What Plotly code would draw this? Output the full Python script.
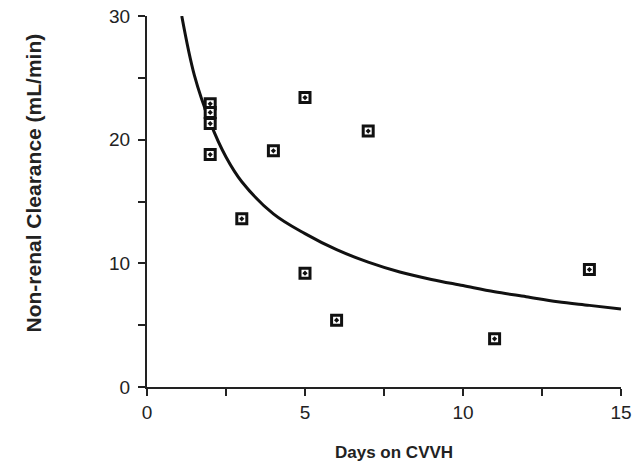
import plotly.graph_objects as go

# Observed data points
days = [2, 2, 2, 2, 3, 4, 5, 5, 6, 7, 11, 14]
clearance = [22.9, 22.2, 21.3, 18.8, 13.6, 19.1, 23.4, 9.2, 5.4, 20.7, 3.9, 9.5]

# Fitted curve
curve_x = [1.1, 1.5, 2, 2.5, 3, 4, 5, 6, 7, 8, 9, 10, 11, 12, 13, 14, 15]
curve_y = [30, 25.2, 21.4, 18.6, 16.6, 14.0, 12.4, 11.1, 10.1, 9.3, 8.7, 8.2, 7.7, 7.3, 6.9, 6.6, 6.3]

x_tickvals = [0, 2.5, 5, 7.5, 10, 12.5, 15]
x_ticktext = ["0", "", "5", "", "10", "", "15"]
y_tickvals = [0, 5, 10, 15, 20, 25, 30]
y_ticktext = ["0", "", "10", "", "20", "", "30"]

x_title = "Days on CVVH"
y_title = "Non-renal Clearance (mL/min)"

fig = go.Figure()
fig.add_trace(go.Scatter(x=curve_x, y=curve_y, mode="lines",
                         line=dict(color="#111111", width=3, shape="spline"),
                         showlegend=False, hoverinfo="skip", cliponaxis=False))
fig.add_trace(go.Scatter(x=days, y=clearance, mode="markers",
                         marker=dict(symbol="square-dot", size=10, color="white",
                                     line=dict(color="#111111", width=3)),
                         showlegend=False))

axis_font = dict(family="Liberation Sans, Arial, sans-serif", size=19, color="#222222")
common = dict(showgrid=False, zeroline=False, showline=True, linecolor="#222222",
              linewidth=2, ticks="outside", ticklen=7, tickwidth=2, tickcolor="#222222",
              tickfont=axis_font, automargin=False, ticklabeloverflow="allow")

fig.update_layout(
    width=637, height=466,
    margin=dict(l=147, r=16, t=16, b=79),
    paper_bgcolor="white", plot_bgcolor="white",
    xaxis=dict(range=[0, 15], tickvals=x_tickvals, ticktext=x_ticktext, **common),
    yaxis=dict(range=[0, 30], tickvals=y_tickvals, ticktext=y_ticktext,
               ticklabelstandoff=4, **common),
    annotations=[
        dict(text="<b>" + x_title + "</b>", xref="paper", yref="paper", x=0.5, y=0,
             xanchor="center", yanchor="middle", xshift=10, yshift=-65, showarrow=False,
             font=dict(family="Liberation Sans, Arial, sans-serif", size=17, color="#222222")),
        dict(text="<b>" + y_title + "</b>", xref="paper", yref="paper", x=0, y=0.5,
             xanchor="center", yanchor="middle", xshift=-114, yshift=18, textangle=-90,
             showarrow=False,
             font=dict(family="Liberation Sans, Arial, sans-serif", size=21, color="#222222")),
    ],
)

fig.write_html("out.html", config={"displayModeBar": False},
               post_script="document.body.style.margin='0';document.body.style.overflow='hidden';")
